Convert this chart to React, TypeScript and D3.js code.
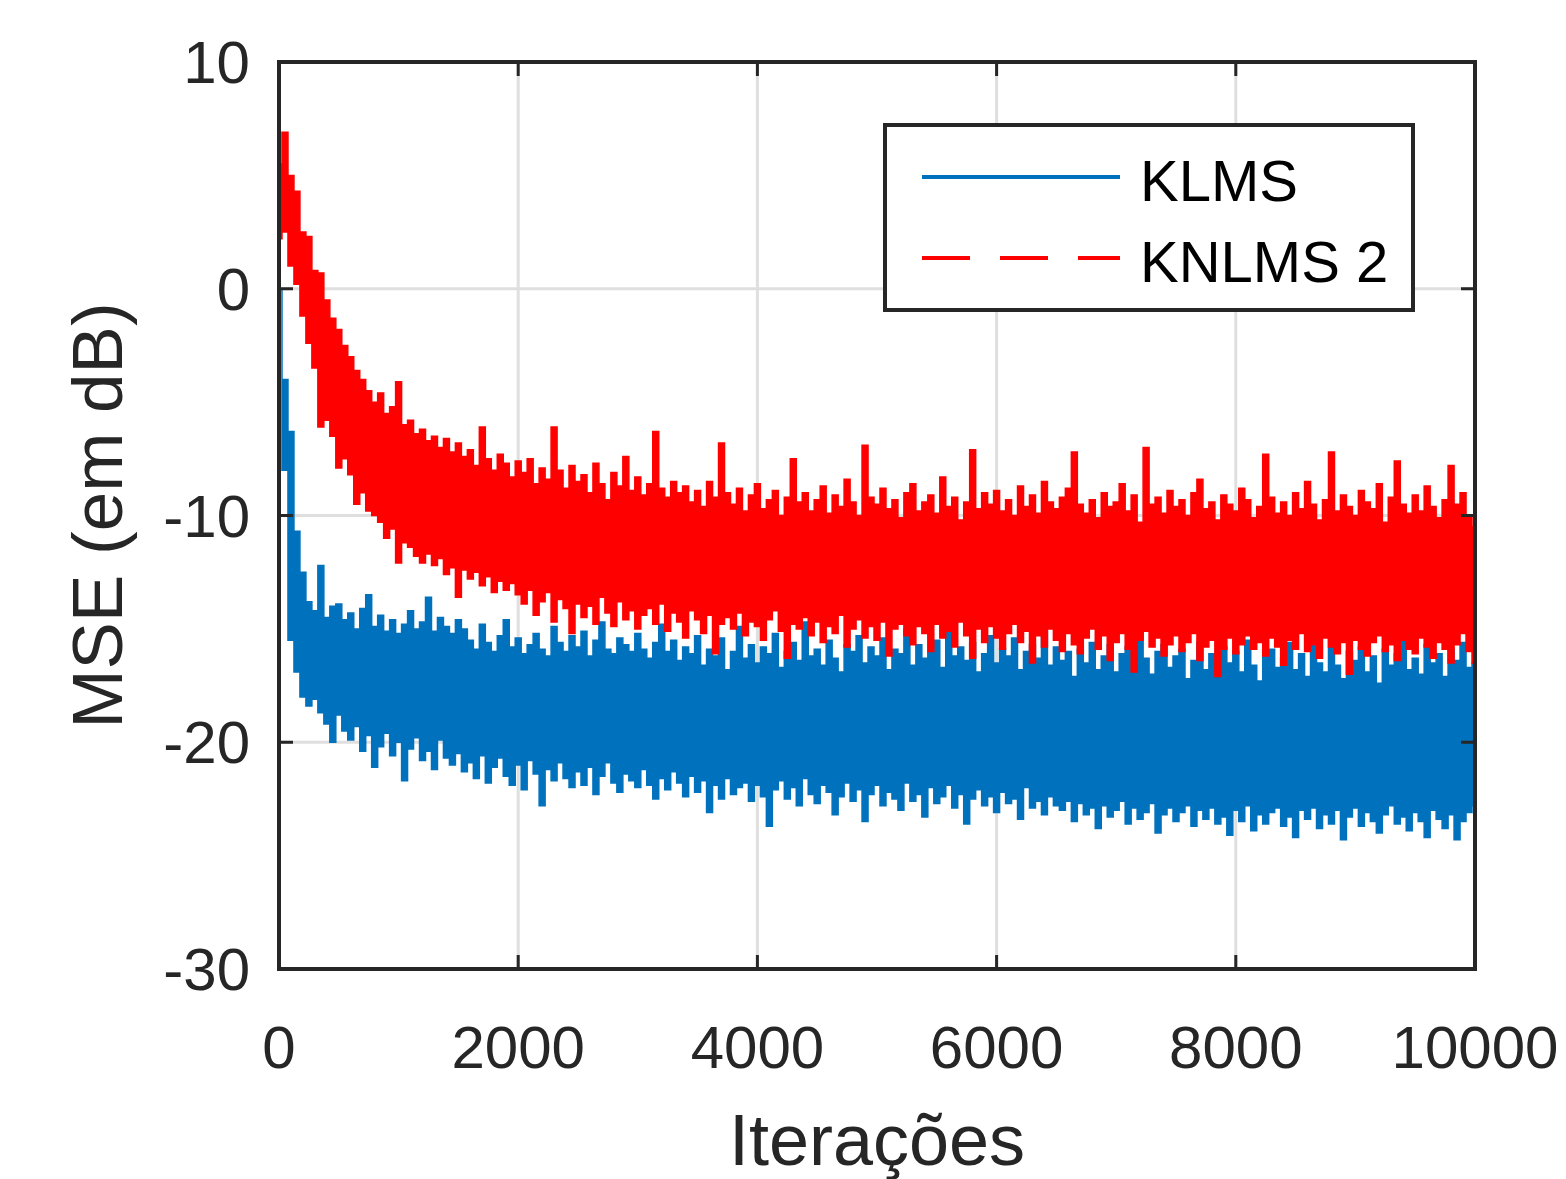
import * as d3 from "d3";

// MSE (dB): for each 50-iteration bin, the highest and
// lowest value the noisy curve reaches in it (iteration = index * STEP)
const STEP = 50;

const klmsUpper = [
  0, -4.0, -6.3, -10.7, -12.5, -13.8, -14.2, -12.2, -14.5, -14.0,
  -13.9, -14.6, -14.3, -15.0, -14.1, -13.5, -14.9, -14.4, -15.1, -14.6,
  -15.2, -14.8, -14.2, -15.0, -14.7, -13.6, -15.1, -14.5, -14.9, -15.2,
  -14.6, -15.0, -15.5, -15.9, -14.8, -15.6, -16.0, -15.3, -14.6, -15.8,
  -15.4, -16.1, -15.7, -15.2, -15.9, -16.2, -14.9, -15.6, -16.0, -15.3,
  -15.8, -15.1, -16.2, -15.5, -14.7, -15.9, -16.1, -15.4, -15.7, -16.0,
  -15.2, -15.9, -16.3, -15.6, -14.8, -16.0, -15.5, -16.4, -15.8, -16.1,
  -15.3, -16.6, -15.9, -16.2, -15.4, -16.8, -16.0, -14.9, -16.3, -15.7,
  -16.5, -15.8, -16.1, -15.2, -16.7, -16.0, -15.6, -16.4, -14.7, -16.2,
  -15.9, -16.6, -15.5, -16.3, -16.9, -15.7, -16.0, -15.3, -16.5, -15.8,
  -16.2, -15.4, -16.8, -15.9, -16.1, -15.0, -16.6, -15.7, -16.3, -16.0,
  -15.5, -16.7, -14.8, -16.2, -15.8, -16.4, -15.6, -16.9, -16.1, -15.3,
  -16.5, -15.9, -16.2, -15.4, -16.8, -16.0, -15.7, -16.3, -15.1, -16.6,
  -15.8, -16.4, -16.0, -17.1, -15.9, -16.5, -15.6, -16.8, -16.2, -15.7,
  -16.9, -16.1, -15.8, -16.6, -14.4, -16.3, -17.0, -16.0, -15.7, -16.7,
  -16.2, -15.9, -17.2, -16.4, -15.6, -16.8, -16.1, -17.0, -15.8, -16.5,
  -16.0, -16.9, -15.5, -16.6, -17.3, -16.2, -15.9, -16.7, -16.3, -15.6,
  -16.8, -16.1, -17.1, -15.7, -16.5, -16.9, -15.4, -16.6, -17.2, -16.0,
  -16.4, -15.8, -16.9, -16.2, -17.4, -15.9, -16.6, -16.1, -15.5, -16.8,
  -16.3, -17.0, -15.7, -16.5, -16.1, -17.1, -15.9, -16.4, -15.6, -16.7,
  -16.5,
];

const klmsLower = [
  0, -8.0, -15.5, -16.9, -18.0, -18.4, -18.1, -18.7, -19.2, -20.0,
  -18.8, -19.5, -19.9, -19.3, -20.4, -19.7, -21.1, -20.2, -19.6, -20.6,
  -20.0, -21.7, -20.3, -19.8, -20.8, -20.4, -21.2, -19.9, -20.7, -21.0,
  -20.5, -21.3, -20.9, -21.6, -20.6, -21.8, -21.1, -20.7, -21.5, -21.9,
  -21.0, -22.1, -20.8, -21.4, -22.8, -21.2, -21.7, -20.9, -21.6, -22.0,
  -21.3, -21.9, -21.1, -22.3, -21.5, -20.9, -21.8, -22.2, -21.4, -21.7,
  -22.0, -21.2, -21.9, -22.5, -21.6, -22.1, -21.3, -21.8, -22.4, -21.5,
  -22.2, -21.7, -23.1, -21.9, -22.5, -21.6, -22.3, -22.0, -21.8, -22.6,
  -21.9, -22.4, -23.7, -22.1, -21.7, -22.5, -22.0, -22.8, -21.6, -22.3,
  -22.7, -21.9, -22.2, -23.2, -22.4, -21.8, -22.6, -22.1, -23.5, -22.3,
  -21.9, -22.8, -22.2, -22.5, -23.0, -21.8, -22.6, -22.3, -23.3, -22.0,
  -22.7, -22.4, -21.9, -22.9, -22.3, -23.6, -22.5, -22.1, -22.8, -22.4,
  -23.1, -22.2, -22.7, -22.5, -23.4, -22.0, -22.9, -22.6, -23.2, -22.4,
  -22.8, -23.0, -22.6, -23.5, -22.7, -23.2, -22.9, -23.8, -22.8, -23.3,
  -23.0, -22.6, -23.6, -22.9, -23.4, -23.1, -22.7, -24.0, -23.2, -22.9,
  -23.5, -23.1, -22.8, -23.7, -23.0, -23.4, -22.9, -23.6, -23.3, -24.1,
  -23.0, -23.5, -22.8, -23.9, -23.2, -23.6, -23.1, -22.9, -23.7, -23.3,
  -24.2, -23.0, -23.4, -22.9, -23.8, -23.2, -23.6, -23.0, -24.3, -23.3,
  -22.9, -23.7, -23.1, -23.5, -24.0, -23.2, -22.8, -23.6, -23.3, -23.9,
  -23.1, -23.5, -24.2, -23.0, -23.4, -23.8, -23.2, -24.3, -23.5, -23.1,
  -22.8,
];

const knlmsUpper = [
  5.5, 6.9, 5.0, 4.3, 2.5, 2.3, 0.8, 0.7, -0.5, -1.3,
  -1.8, -2.5, -3.0, -3.6, -4.0, -4.5, -5.0, -4.6, -5.5, -5.2,
  -4.1, -6.0, -5.8, -6.4, -6.2, -6.7, -6.5, -7.0, -6.6, -7.2,
  -6.8, -7.4, -7.1, -7.8, -6.1, -7.5, -8.0, -7.3, -7.7, -8.3,
  -7.6, -8.1, -7.5, -8.6, -7.9, -8.4, -6.1, -8.0, -8.8, -7.8,
  -8.5, -8.2, -9.0, -7.7, -8.6, -9.3, -8.1, -8.7, -7.4, -8.9,
  -8.3, -9.1, -8.6, -6.3, -8.8, -9.2, -8.5, -9.0, -8.7, -9.4,
  -8.9, -9.6, -8.5, -9.2, -6.8, -9.0, -9.5, -8.8, -9.8, -9.1,
  -8.6, -9.7, -9.3, -8.9, -10.0, -9.2, -7.5, -9.4, -9.0, -9.8,
  -9.3, -8.7, -9.9, -9.1, -9.6, -8.4, -9.4, -10.0, -6.9, -9.2,
  -9.5, -8.8, -9.7, -9.3, -10.1, -9.0, -8.6, -9.8, -9.4, -9.1,
  -9.9, -8.3, -9.6, -9.2, -10.2, -9.4, -7.1, -9.7, -9.0, -9.5,
  -8.9, -9.8, -9.3, -10.0, -8.7, -9.6, -9.1, -9.9, -8.5, -9.4,
  -9.7, -9.2, -8.8, -7.2, -9.5, -9.9, -9.3, -10.1, -9.0, -9.6,
  -9.4, -8.6, -9.8, -9.1, -10.3, -7.0, -9.5, -9.2, -9.9, -8.9,
  -9.6, -9.3, -10.0, -9.0, -8.4, -9.7, -9.4, -10.2, -9.1, -9.5,
  -9.8, -8.8, -9.3, -10.1, -9.6, -7.3, -9.2, -9.9, -9.4, -10.0,
  -9.0, -9.7, -8.5, -9.5, -10.2, -9.3, -7.2, -9.8, -9.1, -9.6,
  -10.0, -8.9, -9.4, -9.7, -8.6, -10.3, -9.2, -7.6, -9.5, -9.9,
  -9.1, -9.8, -8.7, -9.6, -10.1, -9.3, -7.8, -9.5, -9.0, -10.0,
  -10.5,
];

const knlmsLower = [
  2.2, 2.5, 1.0, 0.2, -1.2, -2.4, -3.5, -6.1, -5.8, -6.5,
  -7.9, -7.5, -8.2, -9.5, -9.0, -9.8, -10.0, -10.3, -11.0, -10.6,
  -12.1, -11.2, -11.4, -11.8, -12.1, -11.7, -12.2, -11.9, -12.6, -12.3,
  -13.6, -12.4, -12.8, -12.5, -13.1, -12.7, -13.4, -12.9, -13.3, -13.0,
  -13.5, -13.9, -13.3, -14.4, -13.8, -13.4, -14.7, -13.7, -14.1, -15.2,
  -13.9, -14.5, -14.0, -14.8, -13.6, -14.3, -14.9, -13.8, -14.6, -14.2,
  -15.0, -14.4, -14.1, -14.8, -13.9, -15.1, -14.3, -14.7, -15.4, -14.2,
  -14.6, -15.2, -14.4, -16.1, -14.8, -14.5, -15.0, -14.3, -15.3, -14.7,
  -14.9, -15.5, -14.6, -14.2, -15.1, -16.3, -14.8, -15.0, -14.5, -15.3,
  -14.7, -15.6, -14.9, -15.2, -14.4, -15.8, -15.0, -14.6, -15.4, -14.9,
  -15.5, -14.7, -16.2, -15.0, -14.8, -15.3, -15.7, -14.9, -15.2, -16.0,
  -14.8, -15.4, -15.1, -15.8, -14.7, -15.3, -16.3, -15.0, -15.6, -14.9,
  -15.4, -15.9, -15.2, -14.8, -15.6, -15.1, -16.5, -15.3, -15.8, -15.0,
  -15.5, -16.0, -15.2, -15.7, -16.1, -15.4, -15.0, -15.9, -15.3, -16.4,
  -15.6, -15.2, -15.9, -16.9, -15.5, -15.1, -15.8, -15.4, -16.2, -15.7,
  -15.3, -16.0, -15.6, -15.2, -16.4, -15.8, -15.5, -17.1, -15.9, -15.4,
  -16.1, -15.7, -15.3, -15.9, -15.6, -16.2, -15.4, -15.8, -16.6, -15.5,
  -15.9, -15.2, -16.0, -15.7, -16.3, -15.4, -15.8, -16.1, -15.6, -17.0,
  -15.5, -15.9, -16.2, -15.6, -15.3, -16.0, -15.7, -16.4, -15.5, -15.9,
  -16.1, -15.4, -15.8, -16.3, -15.6, -15.9, -16.5, -15.7, -15.2, -16.0,
  -16.5,
];

const xTicks = [0, 2000, 4000, 6000, 8000, 10000];
const yTicks = [-30, -20, -10, 0, 10];
const seriesNames = ["KLMS", "KNLMS 2"];
const seriesColors = ["#0072BD", "#FF0000"];

const FONT = "'Liberation Sans', Arial, Helvetica, sans-serif";
const INK = "#262626";

export default function App() {
  const W = 1566;
  const H = 1179;
  const left = 279, right = 1475, top = 62, bottom = 969;

  const x = d3.scaleLinear().domain([0, 10000]).range([left, right]);
  const y = d3.scaleLinear().domain([-30, 10]).range([bottom, top]);

  const band = (upper: number[], lower: number[]) =>
    d3
      .area<number>()
      .curve(d3.curveStep)
      .x((_, i) => x(i * STEP))
      .y0((_, i) => y(lower[i]))
      .y1((d) => y(d))(upper) ?? "";

  const tickLen = 14;

  return (
    <svg
      width={W}
      height={H}
      style={{ position: "absolute", left: 0, top: 0, background: "#fff" }}
      fontFamily={FONT}
    >
      <defs>
        <clipPath id="plot">
          <rect x={left} y={top} width={right - left} height={bottom - top} />
        </clipPath>
      </defs>
      <rect width={W} height={H} fill="#fff" />

      {/* grid */}
      {xTicks.slice(1, -1).map((t) => (
        <line key={"gx" + t} x1={x(t)} x2={x(t)} y1={top} y2={bottom} stroke="#dfdfdf" strokeWidth={3} />
      ))}
      {yTicks.slice(1, -1).map((t) => (
        <line key={"gy" + t} x1={left} x2={right} y1={y(t)} y2={y(t)} stroke="#dfdfdf" strokeWidth={3} />
      ))}

      {/* data: the noisy curves are drawn as the band they sweep out */}
      <g clipPath="url(#plot)" strokeWidth={1.5}>
        <path d={band(klmsUpper, klmsLower)} fill={seriesColors[0]} stroke={seriesColors[0]} />
        <path d={band(knlmsUpper, knlmsLower)} fill={seriesColors[1]} stroke={seriesColors[1]} />
      </g>

      {/* ticks */}
      <g stroke={INK} strokeWidth={3}>
        {xTicks.map((t) => (
          <g key={"tx" + t}>
            <line x1={x(t)} x2={x(t)} y1={bottom} y2={bottom - tickLen} />
            <line x1={x(t)} x2={x(t)} y1={top} y2={top + tickLen} />
          </g>
        ))}
        {yTicks.map((t) => (
          <g key={"ty" + t}>
            <line x1={left} x2={left + tickLen} y1={y(t)} y2={y(t)} />
            <line x1={right} x2={right - tickLen} y1={y(t)} y2={y(t)} />
          </g>
        ))}
      </g>

      {/* box */}
      <rect x={left} y={top} width={right - left} height={bottom - top} fill="none" stroke={INK} strokeWidth={4} />

      {/* tick labels */}
      <g fill={INK} fontSize={60}>
        {xTicks.map((t) => (
          <text key={"lx" + t} x={x(t)} y={1068} textAnchor="middle">
            {t}
          </text>
        ))}
        {yTicks.map((t) => (
          <text key={"ly" + t} x={250} y={y(t) + 21} textAnchor="end">
            {t}
          </text>
        ))}
      </g>

      {/* axis labels */}
      <text x={(left + right) / 2} y={1165} textAnchor="middle" fontSize={72} fill={INK}>
        Iterações
      </text>
      <text
        transform={`translate(122, ${(top + bottom) / 2}) rotate(-90)`}
        textAnchor="middle"
        fontSize={71}
        fill={INK}
      >
        MSE (em dB)
      </text>

      {/* legend */}
      <g>
        <rect x={885} y={125} width={528} height={185} fill="#fff" stroke={INK} strokeWidth={4} />
        <line x1={922} x2={1120} y1={177} y2={177} stroke={seriesColors[0]} strokeWidth={4} />
        <line x1={922} x2={1120} y1={258} y2={258} stroke={seriesColors[1]} strokeWidth={4} strokeDasharray="48,30" />
        <text x={1140} y={201} fontSize={58} fill="#000">
          {seriesNames[0]}
        </text>
        <text x={1140} y={282} fontSize={58} fill="#000">
          {seriesNames[1]}
        </text>
      </g>
    </svg>
  );
}
